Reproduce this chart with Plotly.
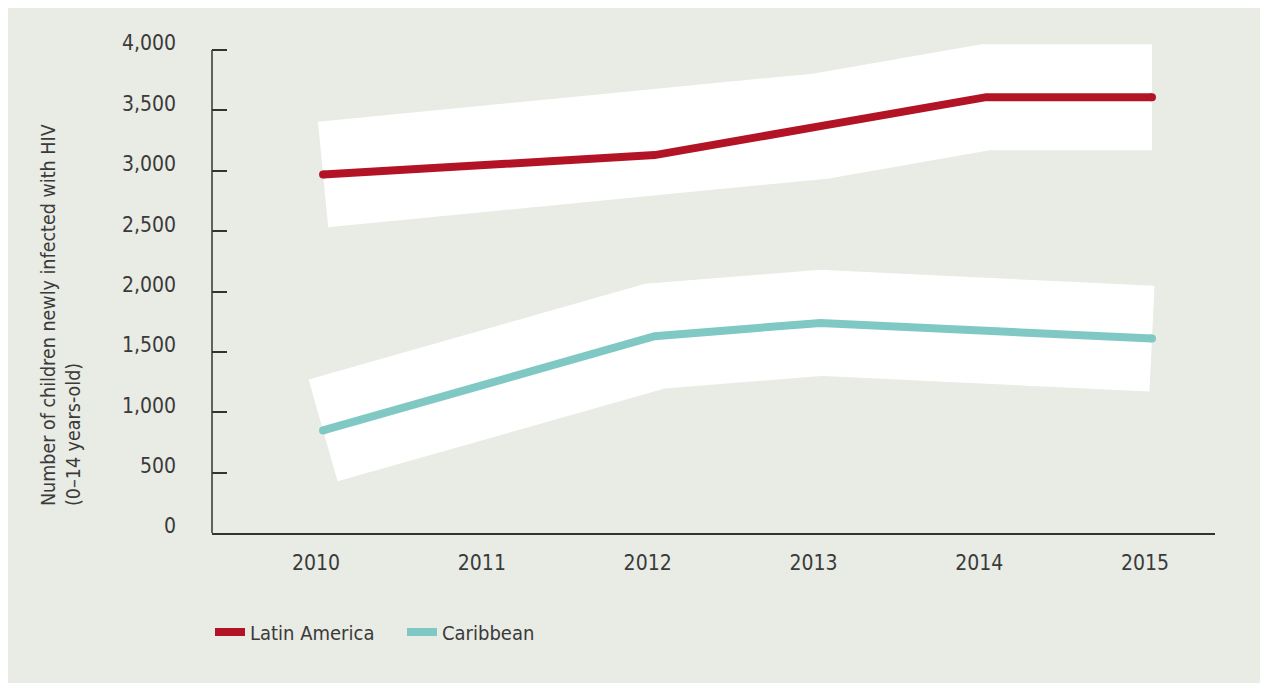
import plotly.graph_objects as go

years = [2010, 2011, 2012, 2013, 2014, 2015]
latin_america = [2970, 3050, 3130, 3370, 3610, 3610]
caribbean = [850, 1240, 1630, 1740, 1680, 1610]
y_ticks = [0, 500, 1000, 1500, 2000, 2500, 3000, 3500, 4000]
y_tick_text = ["0", "500", "1,000", "1,500", "2,000", "2,500", "3,000", "3,500", "4,000"]

RED = "#b21426"
TEAL = "#7fc8c4"
BG = "#e9ebe5"
INK = "#3a3a3a"
FONT = "DejaVu Sans Condensed, Roboto, sans-serif"

fig = go.Figure()

series = [("Latin America", latin_america, RED), ("Caribbean", caribbean, TEAL)]

# white uncertainty bands (wide strokes behind the lines)
for name, vals, col in series:
    fig.add_trace(go.Scatter(x=years, y=vals, mode="lines",
                             line=dict(color="white", width=106),
                             showlegend=False, hoverinfo="skip"))

for name, vals, col in series:
    fig.add_trace(go.Scatter(x=years, y=vals, mode="lines", name=name,
                             line=dict(color=col, width=8)))
    # rounded line ends
    fig.add_trace(go.Scatter(x=[years[0], years[-1]], y=[vals[0], vals[-1]],
                             mode="markers", marker=dict(color=col, size=8),
                             showlegend=False, hoverinfo="skip"))

fig.update_layout(
    width=1268, height=683,
    margin=dict(l=204, r=61, t=30, b=158),
    paper_bgcolor=BG,
    plot_bgcolor="rgba(0,0,0,0)",
    font=dict(family=FONT, size=21, color=INK),
    showlegend=True,
    legend=dict(orientation="h", x=-0.002, xanchor="left", y=-0.2, yanchor="middle",
                font=dict(family=FONT, size=20, color=INK),
                bgcolor="rgba(0,0,0,0)", entrywidth=147, traceorder="normal"),
    shapes=[
        dict(type="line", xref="paper", yref="y", x0=0, x1=0, y0=0, y1=4000,
             line=dict(color="#333333", width=1.5), layer="above"),
    ],
    annotations=[
        dict(text="Number of children newly infected with HIV<br>(0–14 years-old)",
             xref="paper", yref="paper", x=-0.1505, y=0.0505,
             xanchor="center", yanchor="bottom", textangle=-90, align="left",
             showarrow=False, font=dict(family=FONT, size=19.5, color=INK)),
    ],
)

fig.update_xaxes(range=[2009.33, 2015.38], tickvals=years, ticks="",
                 showline=True, linecolor="#333333", linewidth=1.5,
                 showgrid=False, zeroline=False, ticklabelshift=-7,
                 ticklabelstandoff=10, fixedrange=True)
fig.update_yaxes(range=[0, 4100], tickvals=y_ticks, ticktext=y_tick_text,
                 ticks="inside", ticklen=15, tickwidth=1.5, tickcolor="#333333",
                 showline=False, showgrid=False, zeroline=False,
                 ticklabelstandoff=35, ticklabelshift=-7, fixedrange=True)

fig.write_html("out.html")
